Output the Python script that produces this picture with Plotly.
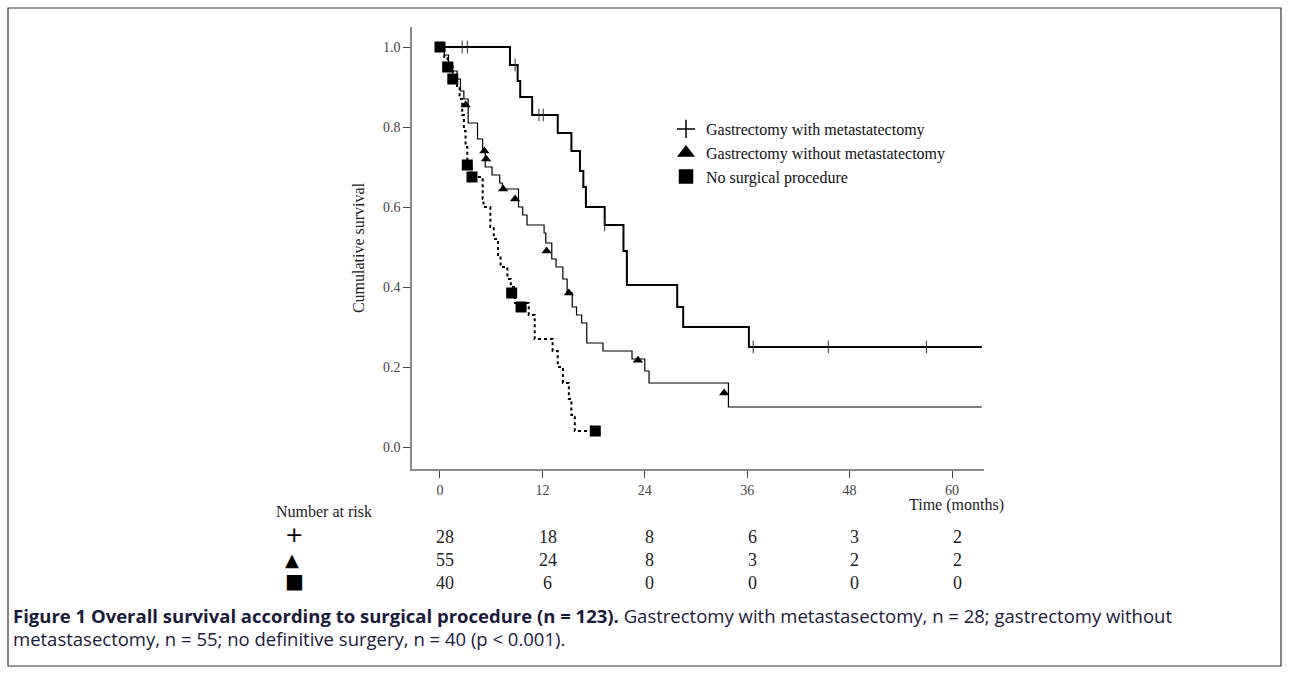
import plotly.graph_objects as go

# step curves (month, survival)
g1_t = [0, 8.2, 9.1, 9.4, 10.8, 13.8, 15.4, 16.4, 16.8, 17.1, 19.3, 21.5, 21.9, 27.8, 28.5, 36.2, 63.5]
g1_s = [1.0, 0.955, 0.915, 0.875, 0.83, 0.785, 0.74, 0.69, 0.65, 0.60, 0.555, 0.49, 0.405, 0.35, 0.30, 0.25, 0.25]
g1_cens_t = [2.6, 3.2, 8.8, 11.6, 12.1, 19.3, 36.7, 45.5, 57.0]
g1_cens_s = [1.0, 1.0, 0.955, 0.83, 0.83, 0.555, 0.25, 0.25, 0.25]

g2_t = [0, 0.5, 1.0, 1.5, 2.0, 2.4, 2.8, 3.3, 4.4, 5.0, 5.3, 6.1, 7.0, 7.3, 9.2, 9.7, 10.2, 12.2, 12.4,
        13.1, 13.6, 14.4, 14.9, 15.5, 16.0, 16.6, 17.2, 19.1, 22.5, 24.0, 24.5, 33.8, 63.5]
g2_s = [1.0, 0.98, 0.96, 0.94, 0.92, 0.89, 0.87, 0.81, 0.77, 0.74, 0.70, 0.68, 0.66, 0.645, 0.60, 0.58, 0.555, 0.535, 0.51,
        0.47, 0.45, 0.42, 0.385, 0.35, 0.33, 0.31, 0.26, 0.24, 0.22, 0.19, 0.16, 0.10, 0.10]
g2_cens_t = [3.0, 5.2, 5.4, 7.4, 8.8, 12.5, 15.1, 23.2, 33.3]
g2_cens_s = [0.855, 0.74, 0.72, 0.645, 0.62, 0.49, 0.385, 0.217, 0.135]

g3_t = [0, 0.5, 0.9, 1.5, 2.0, 2.3, 2.6, 2.8, 3.0, 3.2, 3.7, 5.0, 5.1, 5.9, 6.3, 6.8, 7.1, 7.9, 8.3, 8.8,
        10.4, 11.1, 13.2, 13.8, 14.4, 15.1, 15.4, 15.8, 18.2]
g3_s = [1.0, 0.975, 0.95, 0.92, 0.90, 0.87, 0.83, 0.79, 0.75, 0.705, 0.675, 0.62, 0.60, 0.55, 0.52, 0.48, 0.45, 0.42, 0.40, 0.36,
        0.33, 0.27, 0.24, 0.20, 0.16, 0.12, 0.08, 0.04, 0.04]
g3_cens_t = [0, 0.9, 1.5, 3.2, 3.75, 8.4, 9.5, 18.2]
g3_cens_s = [1.0, 0.95, 0.92, 0.705, 0.675, 0.385, 0.35, 0.04]

groups = ["Gastrectomy with metastatectomy", "Gastrectomy without metastatectomy", "No surgical procedure"]
risk_times = [0, 12, 24, 36, 48, 60]
risk_g1 = [28, 18, 8, 6, 3, 2]
risk_g2 = [55, 24, 8, 3, 2, 2]
risk_g3 = [40, 6, 0, 0, 0, 0]

SERIF = "Liberation Serif"
L, R, T, B = 412, 984, 27, 469


def px(x):
    return (x - L) / (R - L)


def py(y):
    return (B - y) / (B - T)


fig = go.Figure()
fig.add_trace(go.Scatter(x=g1_t, y=g1_s, mode="lines", line=dict(color="black", width=2, shape="hv"), showlegend=False))
fig.add_trace(go.Scatter(x=g2_t, y=g2_s, mode="lines", line=dict(color="black", width=1.2, shape="hv"), showlegend=False))
fig.add_trace(go.Scatter(x=g3_t, y=g3_s, mode="lines", line=dict(color="black", width=2, shape="hv", dash="dot"), showlegend=False))
fig.add_trace(go.Scatter(x=g1_cens_t, y=g1_cens_s, mode="markers", showlegend=False,
                         marker=dict(symbol="line-ns", size=9, line=dict(color="#333", width=1))))
fig.add_trace(go.Scatter(x=g2_cens_t, y=g2_cens_s, mode="markers", showlegend=False,
                         marker=dict(symbol="triangle-up", size=9, color="black")))
fig.add_trace(go.Scatter(x=g3_cens_t, y=g3_cens_s, mode="markers", showlegend=False,
                         marker=dict(symbol="square", size=11, color="black")))

# legend entries
for name, sym in zip(groups, ["cross-thin", "triangle-up", "square"]):
    fig.add_trace(go.Scatter(x=[None], y=[None], mode="markers", name=name,
                             marker=dict(symbol=sym, size=13, color="black", line=dict(color="black", width=1.5))))

ann = []
rows_y = [549, 572, 595]
for row, sym, y, sz in zip([risk_g1, risk_g2, risk_g3], ["+", "▲", "■"], rows_y, [22, 18, 20]):
    ann.append(dict(x=px(283), y=py(y), xref="paper", yref="paper", text=sym, showarrow=False,
                    font=dict(family="DejaVu Sans", size=sz, color="black")))
    for t, v in zip(risk_times, row):
        ann.append(dict(x=t + 0.6, y=py(y), xref="x", yref="paper", text=str(v), showarrow=False,
                        font=dict(family=SERIF, size=18, color="#222")))
ann.append(dict(x=px(274), y=py(522), xref="paper", yref="paper", text="Number at risk", xanchor="left",
                showarrow=False, font=dict(family=SERIF, size=16, color="#222")))
ann.append(dict(x=px(1006), y=py(516), xref="paper", yref="paper", text="Time (months)", xanchor="right",
                showarrow=False, font=dict(family=SERIF, size=16, color="#222")))
ann.append(dict(x=px(11), y=py(630), xref="paper", yref="paper", xanchor="left", showarrow=False, align="left",
                text="<b>Figure 1 Overall survival according to surgical procedure (n = 123).</b> Gastrectomy with metastasectomy, n = 28; gastrectomy without",
                font=dict(family="Open Sans", size=18.5, color="#1a1a3a")))
ann.append(dict(x=px(11), y=py(653), xref="paper", yref="paper", xanchor="left", showarrow=False, align="left",
                text="metastasectomy, n = 55; no definitive surgery, n = 40 (p < 0.001).",
                font=dict(family="Open Sans", size=18.5, color="#1a1a3a")))

# border box
fig.add_shape(type="rect", xref="paper", yref="paper", x0=px(8), y0=py(666), x1=px(1281), y1=py(8),
              line=dict(color="#333", width=1.2), layer="below")

fig.update_layout(
    width=1289, height=674, paper_bgcolor="white", plot_bgcolor="white",
    margin=dict(l=L, r=1289 - R, t=T, b=674 - B),
    annotations=ann,
    legend=dict(x=px(666), y=py(112), xanchor="left", yanchor="top", bgcolor="rgba(0,0,0,0)",
                font=dict(family=SERIF, size=16, color="#111"), tracegroupgap=0, itemwidth=30),
    xaxis=dict(range=[-3.28, 63.75], tickvals=risk_times, ticks="outside", ticklen=7, tickcolor="#444",
               showgrid=False, zeroline=False, showline=True, linecolor="#888", linewidth=1.5,
               tickfont=dict(family=SERIF, size=14, color="#444")),
    yaxis=dict(range=[-0.055, 1.05], tickvals=[0, 0.2, 0.4, 0.6, 0.8, 1.0], tickformat=".1f",
               ticks="outside", ticklen=7, tickcolor="#444", showgrid=False, zeroline=False,
               showline=True, linecolor="#888", linewidth=1.5,
               tickfont=dict(family=SERIF, size=14, color="#444"),
               title=dict(text="Cumulative survival", font=dict(family=SERIF, size=16, color="#222"), standoff=14)),
)
fig.write_html("out.html", config={"displayModeBar": False}, post_script="document.body.style.margin='0';")
